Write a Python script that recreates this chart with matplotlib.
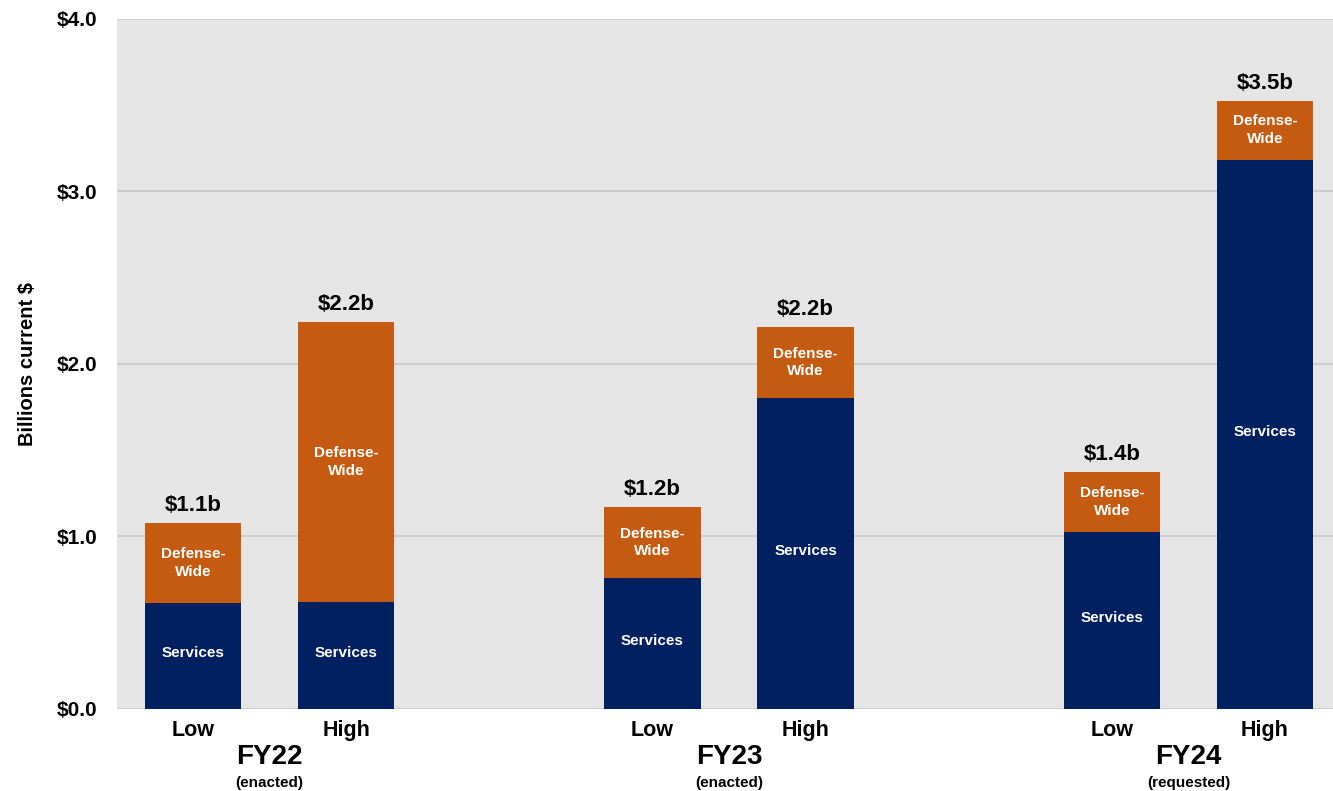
import numpy as np
import matplotlib.pyplot as plt
from matplotlib.transforms import blended_transform_factory

plt.rcParams['font.family'] = ['Liberation Sans', 'DejaVu Sans']
plt.rcParams['font.weight'] = 'bold'

# Data (billions, current $)
years = ['FY22', 'FY23', 'FY24']
year_notes = ['(enacted)', '(enacted)', '(requested)']
bar_labels = ['Low', 'High', 'Low', 'High', 'Low', 'High']
services = [0.614, 0.62, 0.759, 1.803, 1.026, 3.183]
defense_wide = [0.464, 1.623, 0.412, 0.411, 0.348, 0.342]
totals_text = ['$1.1b', '$2.2b', '$1.2b', '$2.2b', '$1.4b', '$3.5b']

navy = '#002060'
orange = '#c55a11'

x = np.array([0, 1, 3, 4, 6, 7])
width = 0.63

fig = plt.figure(figsize=(13.33, 7.91), dpi=100)
ax = fig.add_axes([0.0878, 0.1037, 0.9122, 0.8723])
ax.set_facecolor('#e5e5e5')

ax.bar(x, services, width, color=navy, zorder=3)
ax.bar(x, defense_wide, width, bottom=services, color=orange, zorder=3)

for xi, s, d, t in zip(x, services, defense_wide, totals_text):
    ax.annotate('Services', (xi, s / 2), xytext=(0, 2), textcoords='offset points',
                color='white', ha='center', va='center',
                fontsize=11, fontweight='bold', zorder=4)
    ax.text(xi, s + d / 2, 'Defense-\nWide', color='white', ha='center', va='center',
            fontsize=11, fontweight='bold', linespacing=1.35, zorder=4)
    ax.annotate(t, (xi, s + d), xytext=(0, 5), textcoords='offset points',
                ha='center', va='bottom', fontsize=16, fontweight='bold')

ax.set_ylim(0, 4.0)
ax.set_xlim(-0.497, 7.444)
ax.set_yticks([0, 1, 2, 3, 4])
ax.set_yticklabels(['$%.1f' % v for v in [0, 1, 2, 3, 4]])
ax.set_xticks(x)
ax.set_xticklabels(bar_labels)
ax.tick_params(axis='y', length=0, pad=14, labelsize=15)
ax.tick_params(axis='x', length=0, pad=8, labelsize=15.5)
for lab in ax.get_xticklabels() + ax.get_yticklabels():
    lab.set_fontweight('bold')

ax.grid(axis='y', color='#c8c8c8', linewidth=1.2, zorder=1)
ax.set_axisbelow(True)
for sp in ax.spines.values():
    sp.set_visible(False)

ax.set_ylabel('Billions current $', fontsize=14.5, fontweight='bold', labelpad=14)

trans = blended_transform_factory(ax.transData, ax.transAxes)
for i, (yr, note) in enumerate(zip(years, year_notes)):
    cx = (x[2 * i] + x[2 * i + 1]) / 2
    ax.text(cx, -0.07, yr, transform=trans, ha='center', va='center',
            fontsize=20, fontweight='bold')
    ax.text(cx, -0.107, note, transform=trans, ha='center', va='center',
            fontsize=11, fontweight='bold')

fig.savefig('out.png', dpi=100)
